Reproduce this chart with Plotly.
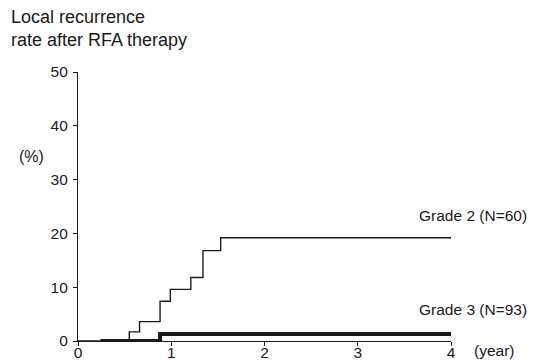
import plotly.graph_objects as go

# Data
grade2_years = [0.0, 0.55, 0.66, 0.88, 0.99, 1.21, 1.34, 1.53, 4.0]
grade2_rate = [0.0, 1.7, 3.6, 7.4, 9.6, 11.8, 16.8, 19.2, 19.2]
grade3_years = [0.24, 0.88, 4.0]
grade3_rate = [0.0, 1.3, 1.3]
x_ticks = [0, 1, 2, 3, 4]
y_ticks = [0, 10, 20, 30, 40, 50]

FONT = "Liberation Sans, Arial, Helvetica, sans-serif"
INK = "#1a1a1a"

fig = go.Figure()
fig.add_trace(go.Scatter(x=grade3_years, y=grade3_rate, mode="lines",
                         line=dict(shape="hv", color=INK, width=4),
                         name="Grade 3 (N=93)", showlegend=False))
fig.add_trace(go.Scatter(x=grade2_years, y=grade2_rate, mode="lines",
                         line=dict(shape="hv", color=INK, width=1.4),
                         name="Grade 2 (N=60)", showlegend=False))

fig.update_layout(
    width=535, height=360,
    margin=dict(l=78, r=84, t=72, b=19, autoexpand=False),
    paper_bgcolor="white", plot_bgcolor="white",
    font=dict(family=FONT, size=15, color=INK),
    xaxis=dict(range=[0, 4], tickvals=x_ticks, showline=True, linecolor=INK,
               linewidth=1.2, ticks="outside", ticklen=4, tickcolor=INK,
               showgrid=False, zeroline=False, tickfont=dict(size=15.5),
               ticklabelstandoff=-7, automargin=False, fixedrange=True),
    yaxis=dict(range=[0, 50], tickvals=y_ticks, showline=True, linecolor=INK,
               linewidth=1.2, ticks="outside", ticklen=4, tickcolor=INK,
               showgrid=False, zeroline=False, tickfont=dict(size=15.5),
               ticklabelstandoff=2, automargin=False, fixedrange=True),
    annotations=[
        dict(text="Local recurrence<br>rate after RFA therapy", xref="paper", yref="paper",
             x=(9 - 78) / 373, y=(341 - 5) / 269, xanchor="left", yanchor="top",
             align="left", showarrow=False, font=dict(size=18)),
        dict(text="(%)", xref="paper", yref="paper",
             x=(17 - 78) / 373, y=(341 - 156) / 269, xanchor="left", yanchor="middle",
             showarrow=False, font=dict(size=16)),
        dict(text="Grade 2 (N=60)", xref="paper", yref="paper",
             x=(417 - 78) / 373, y=(341 - 215) / 269, xanchor="left", yanchor="middle",
             showarrow=False, font=dict(size=15.5)),
        dict(text="Grade 3 (N=93)", xref="paper", yref="paper",
             x=(417 - 78) / 373, y=(341 - 309) / 269, xanchor="left", yanchor="middle",
             showarrow=False, font=dict(size=15.5)),
        dict(text="(year)", xref="paper", yref="paper",
             x=(472 - 78) / 373, y=(341 - 350) / 269, xanchor="left", yanchor="middle",
             showarrow=False, font=dict(size=15.5)),
    ],
)

fig.write_html("out.html", config={"displayModeBar": False},
               post_script="document.body.style.margin='0';document.body.style.padding='0';")
